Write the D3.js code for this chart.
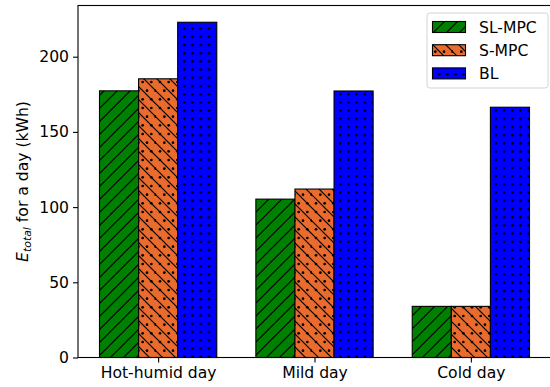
<!DOCTYPE html>
<html>
<head>
<meta charset="utf-8">
<script src="https://cdn.jsdelivr.net/npm/d3@7"></script>
<style>
  html, body { margin: 0; padding: 0; background: #fff; }
  svg { display: block; }
  text { font-family: "DejaVu Sans", sans-serif; }
</style>
</head>
<body>
<svg id="chart" width="550" height="387"></svg>
<script>
// Daily total energy per controller and day type
const categories = ["Hot-humid day", "Mild day", "Cold day"];
const seriesNames = ["SL-MPC", "S-MPC", "BL"];
const slMpc = [177.3, 105.3, 34.0];
const sMpc = [185.3, 112.0, 34.0];
const bl = [222.9, 177.2, 166.4];
const yTicks = [0, 50, 100, 150, 200];

const seriesValues = [slMpc, sMpc, bl];
const colors = ["#008000", "#e96c2e", "#0000ff"];
const patterns = ["hatchFwd", "hatchBackDots", "hatchDots"];

const svg = d3.select("#chart");
const plot = { left: 78, right: 551, top: 5.5, bottom: 357.5 };
const barWidth = 0.25;
const fontSize = 15.6;
const hatchWidth = 1.2;
const dotR = 1.35;

// Hatch patterns
const defs = svg.append("defs");
{
  const p = defs.append("pattern").attr("id", "hatchFwd").attr("patternUnits", "userSpaceOnUse")
    .attr("width", 13).attr("height", 13);
  p.append("rect").attr("width", 13).attr("height", 13).attr("fill", colors[0]);
  p.append("path").attr("d", "M-3,16 L16,-3 M-3,3 L3,-3 M10,16 L16,10")
    .attr("stroke", "#000").attr("stroke-width", hatchWidth).attr("fill", "none");
}
{
  const p = defs.append("pattern").attr("id", "hatchBackDots").attr("patternUnits", "userSpaceOnUse")
    .attr("width", 26).attr("height", 26);
  p.append("rect").attr("width", 26).attr("height", 26).attr("fill", colors[1]);
  ["M-3,-3 L29,29", "M10,-3 L29,16", "M23,-3 L29,3", "M-3,10 L16,29", "M-3,23 L3,29"].forEach(d =>
    p.append("path").attr("d", d).attr("stroke", "#000").attr("stroke-width", hatchWidth).attr("fill", "none"));
  const step = 26 / 3;
  for (let r = 0; r < 3; r++) {
    for (let c = 0; c < 3; c++) {
      const off = (r % 2) * step / 2;
      p.append("circle").attr("cx", c * step + off + 4).attr("cy", r * step + 4)
        .attr("r", dotR).attr("fill", "#000");
    }
  }
}
{
  const p = defs.append("pattern").attr("id", "hatchDots").attr("patternUnits", "userSpaceOnUse")
    .attr("width", 8.2).attr("height", 8.2);
  p.append("rect").attr("width", 8.2).attr("height", 8.2).attr("fill", colors[2]);
  p.append("circle").attr("cx", 4).attr("cy", 4).attr("r", dotR).attr("fill", "#000");
}

// Scales
const nCat = categories.length;
const span = (nCat - 1) + 3 * barWidth;
const xMin = -1.5 * barWidth - 0.05 * span;
const xMax = (nCat - 1) + 1.5 * barWidth + 0.05 * span;
const x = d3.scaleLinear().domain([xMin, xMax]).range([plot.left, plot.right]);
const yMax = d3.max(bl) * 1.05;
const y = d3.scaleLinear().domain([0, yMax]).range([plot.bottom, plot.top]);

// Bars
seriesValues.forEach((vals, s) => {
  const offset = (s - 1) * barWidth;
  svg.append("g").selectAll("rect").data(vals).join("rect")
    .attr("x", (d, i) => x(i + offset - barWidth / 2))
    .attr("width", x(barWidth) - x(0))
    .attr("y", d => y(d))
    .attr("height", d => y(0) - y(d))
    .attr("fill", `url(#${patterns[s]})`)
    .attr("stroke", "#000")
    .attr("stroke-width", 1.1);
});

// Axes
const yAxis = d3.axisLeft(y).tickValues(yTicks).tickSize(5).tickPadding(4);
const gy = svg.append("g").attr("transform", `translate(${plot.left},0)`).call(yAxis);
const xAxis = d3.axisBottom(x).tickValues(d3.range(nCat)).tickFormat(i => categories[i]).tickSize(5).tickPadding(4);
const gx = svg.append("g").attr("transform", `translate(0,${plot.bottom})`).call(xAxis);
[gx, gy].forEach(g => {
  g.select(".domain").remove();
  g.selectAll("line").attr("stroke", "#000").attr("stroke-width", 1.1);
  g.selectAll("text").attr("font-size", fontSize).attr("fill", "#000")
    .style("font-family", "'DejaVu Sans', sans-serif");
});

// Spines
svg.append("rect")
  .attr("x", plot.left).attr("y", plot.top)
  .attr("width", plot.right - plot.left).attr("height", plot.bottom - plot.top)
  .attr("fill", "none").attr("stroke", "#000").attr("stroke-width", 1.1);

// Y-axis label
const ylab = svg.append("text")
  .attr("transform", `translate(28,${(plot.top + plot.bottom) / 2}) rotate(-90)`)
  .attr("text-anchor", "middle")
  .attr("font-size", fontSize)
  .attr("fill", "#000");
ylab.append("tspan").attr("font-style", "italic").text("E");
ylab.append("tspan").attr("font-style", "italic").attr("font-size", fontSize * 0.7).attr("dy", 3).text("total");
ylab.append("tspan").attr("dy", -3).text(" for a day (kWh)");

// Legend
const legend = svg.append("g").attr("transform", "translate(427,13)");
legend.append("rect")
  .attr("width", 121).attr("height", 75).attr("rx", 3)
  .attr("fill", "#fff").attr("fill-opacity", 0.8)
  .attr("stroke", "#d4d4d4").attr("stroke-width", 1);
seriesNames.forEach((name, i) => {
  const cy = 14 + i * 23.2;
  legend.append("rect")
    .attr("x", 5.5).attr("y", cy - 5.5).attr("width", 33).attr("height", 11)
    .attr("fill", `url(#${patterns[i]})`).attr("stroke", "#000").attr("stroke-width", 1.1);
  legend.append("text")
    .attr("x", 52).attr("y", cy).attr("dy", "0.36em")
    .attr("font-size", fontSize).attr("fill", "#000").text(name);
});
</script>
</body>
</html>
